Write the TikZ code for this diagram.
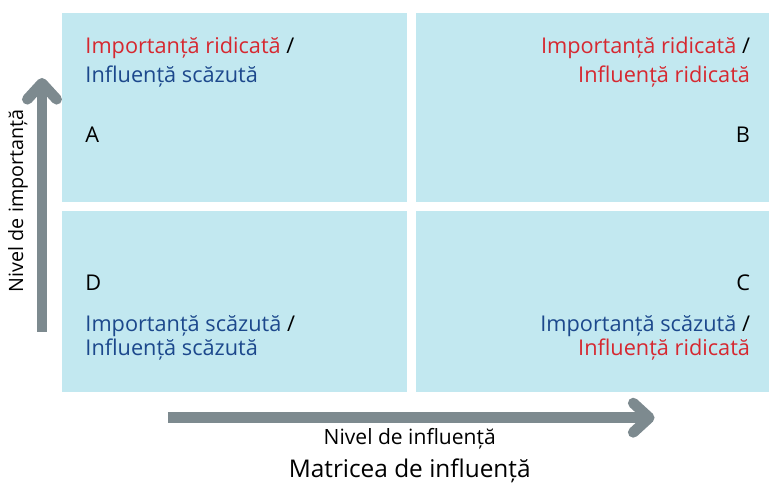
\documentclass[tikz,border=0pt]{standalone}
\usepackage{fontspec}
\setmainfont{Open Sans}
\usetikzlibrary{arrows.meta}
\definecolor{quadfill}{RGB}{194,232,240}
\definecolor{hired}{RGB}{214,40,48}
\definecolor{lowblue}{RGB}{28,72,140}
\definecolor{axisgrey}{RGB}{125,138,143}
\tikzset{every picture/.style={line width=0.75pt}}
\tikzset{
  quad/.style={fill=quadfill, draw=none, inner sep=0pt},
  lbl/.style={font=\fontsize{16.3}{21.5}\selectfont, inner sep=0pt},
  lbllow/.style={font=\fontsize{16.3}{17.5}\selectfont, inner sep=0pt},
  axis/.style={draw=axisgrey, line width=8pt, -{Straight Barb[length=12pt,width=22pt,line cap=round,round]}}
}

\begin{document}
\begin{tikzpicture}[x=0.75pt,y=0.75pt,yscale=-1,xscale=1]
		\path (0,0) rectangle (769,487);
		
		%Shape: Rectangles (quadrants)
		\node[quad, minimum width=345*0.75pt, minimum height=189*0.75pt, anchor=north west] (qA) at (62,13) {};
		\node[quad, minimum width=353*0.75pt, minimum height=189*0.75pt, anchor=north west] (qB) at (416,13) {};
		\node[quad, minimum width=345*0.75pt, minimum height=181*0.75pt, anchor=north west] (qD) at (62,211) {};
		\node[quad, minimum width=353*0.75pt, minimum height=181*0.75pt, anchor=north west] (qC) at (416,211) {};
		
		% Text Node
		\node[lbl, anchor=west, align=left] (tA) at (85,62) {\textcolor{hired}{Importanță ridicată} /\\\textcolor{lowblue}{Influență scăzută}};
		% Text Node
		\node[lbl, anchor=west] (lA) at (85,135) {A};
		% Text Node
		\node[lbl, anchor=east, align=right] (tB) at (751,62) {\textcolor{hired}{Importanță ridicată} /\\\textcolor{hired}{Influență ridicată}};
		% Text Node
		\node[lbl, anchor=east] (lB) at (751,135) {B};
		% Text Node
		\node[lbl, anchor=west] (lD) at (85,283) {D};
		% Text Node
		\node[lbllow, anchor=west, align=left] (tD) at (85,338) {\textcolor{lowblue}{Importanță scăzută} /\\\textcolor{lowblue}{Influență scăzută}};
		% Text Node
		\node[lbl, anchor=east] (lC) at (751,283) {C};
		% Text Node
		\node[lbllow, anchor=east, align=right] (tC) at (751,338) {\textcolor{lowblue}{Importanță scăzută} /\\\textcolor{hired}{Influență ridicată}};
		
		%Straight Lines (axes)
		\coordinate (vlow) at (42,332);
		\coordinate (vhigh) at (42,78);
		\coordinate (hlow) at (168,418);
		\coordinate (hhigh) at (655,418);
		\draw[axis] (vlow) -- (vhigh);
		\draw[axis] (hlow) -- (hhigh);
		
		% Text Node
		\node[font=\fontsize{14.8}{17}\selectfont, rotate=90] (vname) at (18,201) {Nivel de importanță};
		% Text Node
		\node[font=\fontsize{15.8}{18}\selectfont] (hname) at (410,439) {Nivel de influență};
		% Text Node
		\node[font=\fontsize{18.3}{21}\selectfont] (title) at (410,471) {Matricea de influență};
		
\end{tikzpicture}
\end{document}
